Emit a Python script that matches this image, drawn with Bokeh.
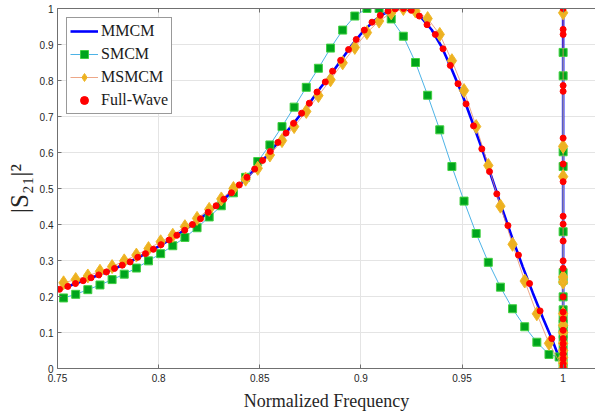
from bokeh.plotting import figure
from bokeh.models import (Range1d, LinearAxis, FixedTicker, NumeralTickFormatter,
                          CustomJSTickFormatter, Legend, LegendItem)
from bokeh.embed import file_html
from bokeh.resources import INLINE

# ---------------- data ----------------
x_ticks = [0.75, 0.8, 0.85, 0.9, 0.95, 1.0]
y_ticks = [0, 0.1, 0.2, 0.3, 0.4, 0.5, 0.6, 0.7, 0.8, 0.9, 1.0]

mmcm_x = [0.750, 0.755, 0.760, 0.765, 0.770, 0.775, 0.780, 0.785, 0.790, 0.795,
          0.800, 0.805, 0.810, 0.815, 0.820, 0.825, 0.830, 0.835, 0.840, 0.845,
          0.850, 0.855, 0.860, 0.865, 0.870, 0.875, 0.880, 0.885, 0.890, 0.895,
          0.900, 0.905, 0.910, 0.915, 0.920, 0.925, 0.930, 0.935, 0.940, 0.945,
          0.950, 0.955, 0.960, 0.965, 0.970, 0.975, 0.980, 0.985, 0.990, 0.995,
          0.998, 1.000, 1.000]
mmcm_y = [0.219, 0.228, 0.238, 0.248, 0.259, 0.270, 0.282, 0.294, 0.309, 0.323,
          0.339, 0.356, 0.374, 0.393, 0.413, 0.436, 0.459, 0.484, 0.510, 0.538,
          0.568, 0.601, 0.635, 0.669, 0.704, 0.740, 0.780, 0.815, 0.855, 0.894,
          0.929, 0.958, 0.981, 0.996, 1.000, 0.994, 0.974, 0.941, 0.893, 0.830,
          0.763, 0.686, 0.608, 0.525, 0.441, 0.360, 0.283, 0.210, 0.140, 0.074,
          0.030, 0.000, 1.000]

smcm_x_main = [0.753, 0.759, 0.765, 0.771, 0.777, 0.783, 0.789, 0.795, 0.801, 0.807,
               0.813, 0.819, 0.825, 0.831, 0.837, 0.843, 0.849, 0.855, 0.861, 0.867,
               0.873, 0.879, 0.885, 0.891, 0.897, 0.903, 0.909, 0.915, 0.921, 0.927,
               0.933, 0.939, 0.945, 0.951, 0.957, 0.963, 0.969, 0.975, 0.981, 0.987,
               0.993, 0.998]
smcm_y_main = [0.196, 0.206, 0.219, 0.232, 0.247, 0.262, 0.279, 0.299, 0.319, 0.341,
               0.364, 0.391, 0.421, 0.452, 0.488, 0.531, 0.575, 0.621, 0.672, 0.726,
               0.781, 0.834, 0.890, 0.940, 0.979, 1.000, 1.000, 0.971, 0.923, 0.850,
               0.759, 0.663, 0.561, 0.465, 0.375, 0.295, 0.226, 0.166, 0.116, 0.073,
               0.039, 0.032]
smcm_y_edge = [0.000, 0.020, 0.040, 0.060, 0.080, 0.095, 0.110, 0.124, 0.138, 0.163,
               0.199, 0.245, 0.266, 0.380, 0.561, 0.602, 0.813, 0.878]

msmcm_x_main = [0.753, 0.759, 0.765, 0.771, 0.777, 0.783, 0.789, 0.795, 0.801, 0.807,
                0.813, 0.819, 0.825, 0.831, 0.837, 0.843, 0.849, 0.855, 0.861, 0.867,
                0.873, 0.879, 0.885, 0.891, 0.897, 0.903, 0.909, 0.915, 0.921, 0.927,
                0.933, 0.939, 0.945, 0.951, 0.957, 0.963, 0.969, 0.975, 0.981, 0.987,
                0.993]
msmcm_y_main = [0.238, 0.247, 0.257, 0.270, 0.283, 0.299, 0.315, 0.333, 0.352, 0.370,
                0.394, 0.417, 0.442, 0.471, 0.500, 0.526, 0.556, 0.593, 0.633, 0.672,
                0.714, 0.758, 0.802, 0.849, 0.892, 0.933, 0.965, 0.988, 1.000, 0.993,
                0.972, 0.928, 0.855, 0.772, 0.672, 0.564, 0.451, 0.345, 0.243, 0.152,
                0.070]
msmcm_y_edge = [0.000, 0.015, 0.030, 0.050, 0.070, 0.100, 0.120, 0.152, 0.240, 0.254,
                0.533, 0.617, 0.988]

fw_x_main = [0.7510, 0.7551, 0.7589, 0.7627, 0.7666, 0.7704, 0.7742, 0.7782, 0.7820, 0.7859,
             0.7897, 0.7935, 0.7974, 0.8012, 0.8052, 0.8090, 0.8129, 0.8167, 0.8207, 0.8245,
             0.8284, 0.8322, 0.8360, 0.8399, 0.8437, 0.8475, 0.8514, 0.8552, 0.8590, 0.8630,
             0.8667, 0.8707, 0.8745, 0.8783, 0.8824, 0.8860, 0.8900, 0.8939, 0.8977, 0.9017,
             0.9055, 0.9096, 0.9134, 0.9170, 0.9211, 0.9249, 0.9289, 0.9327, 0.9368, 0.9406,
             0.9442, 0.9480, 0.9520, 0.9557, 0.9598, 0.9636, 0.9672, 0.9727, 0.9779, 0.9834,
             0.9886, 0.9944]
fw_y_main = [0.220, 0.228, 0.236, 0.244, 0.252, 0.260, 0.268, 0.278, 0.287, 0.296,
             0.309, 0.319, 0.331, 0.344, 0.357, 0.370, 0.384, 0.400, 0.416, 0.434,
             0.452, 0.470, 0.488, 0.510, 0.531, 0.554, 0.578, 0.603, 0.628, 0.654,
             0.681, 0.709, 0.737, 0.768, 0.796, 0.826, 0.856, 0.886, 0.914, 0.940,
             0.962, 0.981, 0.993, 0.999, 1.000, 0.995, 0.979, 0.955, 0.928, 0.888,
             0.842, 0.791, 0.735, 0.674, 0.610, 0.547, 0.485, 0.397, 0.315, 0.236,
             0.160, 0.083]
fw_y_edge = [0.004, 0.013, 0.027, 0.041, 0.055, 0.069, 0.083, 0.106, 0.138, 0.157,
             0.199, 0.278, 0.299, 0.354, 0.401, 0.423, 0.519, 0.568, 0.640, 0.770,
             0.786, 0.928, 0.942, 1.000]

edge_f = 1.0
smcm_x = smcm_x_main + [edge_f] * len(smcm_y_edge)
smcm_y = smcm_y_main + smcm_y_edge
msmcm_x = msmcm_x_main + [edge_f] * len(msmcm_y_edge)
msmcm_y = msmcm_y_main + msmcm_y_edge
fw_x = fw_x_main + [edge_f] * len(fw_y_edge)
fw_y = fw_y_main + fw_y_edge

# ---------------- figure ----------------
p = figure(width=595, height=414, output_backend="svg", toolbar_location=None,
           x_range=Range1d(0.75, 1.016), y_range=Range1d(0, 1),
           min_border_left=57, min_border_right=0, min_border_top=8,
           min_border_bottom=46)
p.outline_line_color = None
p.background_fill_color = "white"
p.border_fill_color = "white"

AX = "#707070"
LAB = "#262626"
SERIF = "Liberation Serif"

xt = FixedTicker(ticks=x_ticks)
yt = FixedTicker(ticks=y_ticks)

top = LinearAxis(ticker=xt)
p.add_layout(top, "above")

for ax in p.xaxis + p.yaxis:
    ax.axis_line_color = AX
    ax.major_tick_line_color = AX
    ax.major_tick_in = 4
    ax.major_tick_out = 0
    ax.minor_tick_line_color = None
    ax.major_label_text_font = "Liberation Sans"
    ax.major_label_text_font_size = "10px"
    ax.major_label_text_color = LAB

for ax in p.below:
    ax.ticker = xt
    ax.formatter = NumeralTickFormatter(format="0.[00]")
    ax.axis_label = "Normalized Frequency"
    ax.axis_label_text_font = SERIF
    ax.axis_label_text_font_style = "normal"
    ax.axis_label_text_font_size = "18px"
    ax.axis_label_text_color = LAB
    ax.axis_label_standoff = 6
    ax.major_label_standoff = 5
for ax in p.yaxis:
    ax.ticker = yt
    ax.formatter = NumeralTickFormatter(format="0.[00]")
    ax.axis_label = "|S\u2082\u2081|\u00b2"
    ax.axis_label_text_font = SERIF
    ax.axis_label_text_font_style = "normal"
    ax.axis_label_text_font_size = "25px"
    ax.axis_label_text_color = LAB
    ax.axis_label_standoff = 4
    ax.major_label_standoff = 4

top.formatter = CustomJSTickFormatter(code="return '';")
top.major_label_text_font_size = "0px"
top.major_label_standoff = 0

p.xgrid.ticker = xt
p.ygrid.ticker = yt
p.xgrid.grid_line_color = "#e4e4e4"
p.ygrid.grid_line_color = "#e4e4e4"

r_mm = p.line(mmcm_x, mmcm_y, line_color="#0000ff", line_width=2.6)
r_sm_l = p.line(smcm_x, smcm_y, line_color="#4db3e6", line_width=1)
r_sm_m = p.scatter(smcm_x, smcm_y, marker="square", size=8,
                   fill_color="#00a51c", line_color="#40d040", line_width=1)
r_ms_l = p.line(msmcm_x, msmcm_y, line_color="#e8916a", line_width=1, line_alpha=0.8)
r_ms_m = p.scatter(msmcm_x, msmcm_y, marker="diamond", size=14,
                   fill_color="#edb120", line_color="#f0b82a", line_width=1)
r_fw = p.scatter(fw_x, fw_y, marker="circle", size=6,
                 fill_color="#ff0000", line_color="#ff0000", line_width=1)

legend = Legend(items=[
    LegendItem(label="MMCM", renderers=[r_mm]),
    LegendItem(label="SMCM", renderers=[r_sm_l, r_sm_m]),
    LegendItem(label="MSMCM", renderers=[r_ms_l, r_ms_m]),
    LegendItem(label="Full-Wave", renderers=[r_fw]),
], location="top_left")
legend.margin = 9
legend.padding = 3
legend.spacing = 3
legend.label_standoff = 3
legend.glyph_width = 28
legend.glyph_height = 20
legend.label_height = 20
legend.label_text_font = SERIF
legend.label_text_font_size = "16px"
legend.label_text_color = "#1a1a1a"
legend.border_line_color = "#333333"
legend.border_line_width = 1
legend.background_fill_color = "white"
legend.background_fill_alpha = 1
p.add_layout(legend)

open("out.html", "w").write(file_html(p, INLINE))
